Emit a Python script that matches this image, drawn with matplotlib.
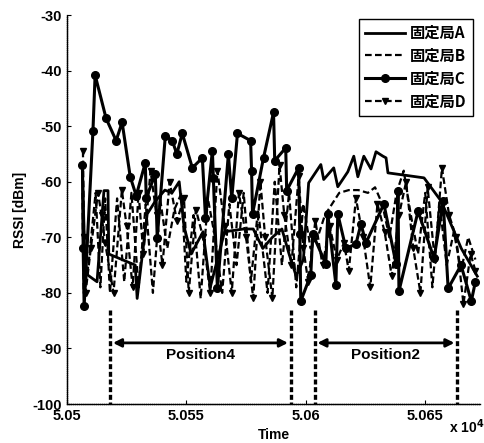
import numpy as np
import matplotlib.pyplot as plt

plt.rcParams['font.family'] = ['Liberation Sans', 'Noto Sans CJK JP', 'DejaVu Sans']
plt.rcParams['font.weight'] = 'bold'
plt.rcParams['axes.unicode_minus'] = False

# time in seconds (x 10^4 on the axis), RSSI in dBm
t_a = [50506.5, 50507.5, 50508.4, 50512.6, 50515.5, 50517.2, 50517.5, 50528.6, 50529.4, 50533.6,
       50537.0, 50541.0, 50544.0, 50547.0, 50549.0, 50552.0, 50557.0, 50560.0, 50566.0, 50574.0,
       50578.0, 50582.0, 50586.0, 50590.0, 50593.0, 50596.0, 50599.0, 50601.2, 50606.3, 50607.5,
       50611.7, 50613.4, 50617.6, 50620.1, 50621.8, 50624.3, 50627.3, 50629.4, 50632.3, 50633.6,
       50634.4, 50642.8, 50649.5, 50656.7, 50665.1, 50671.8]
y_a = [-58, -74, -76.7, -78, -61.6, -61.6, -73, -75, -81, -65.8,
       -63.5, -61.5, -62, -60, -68, -73, -69, -79, -69, -68.5,
       -68.5, -72, -70, -68.5, -73, -77, -74, -60.2, -56.9, -59.6,
       -57.5, -60.9, -58.2, -55.4, -59.1, -55.4, -57.7, -54.6, -55.4, -55.7,
       -58.4, -58.9, -59.3, -63.5, -72, -77]

t_b = [50506.5, 50507.0, 50509.0, 50512.0, 50514.0, 50516.0, 50518.0, 50521.0, 50524.0, 50527.0,
       50530.0, 50533.0, 50536.0, 50539.0, 50542.0, 50545.0, 50548.0, 50550.0, 50553.0, 50556.0,
       50559.0, 50562.0, 50565.0, 50568.0, 50571.0, 50574.0, 50577.0, 50580.0, 50584.0, 50587.0,
       50590.0, 50593.0, 50596.0, 50599.0, 50602.0, 50605.0, 50608.0, 50611.0, 50614.0, 50618.0,
       50622.0, 50626.0, 50629.0, 50632.0, 50635.0, 50638.0, 50641.0, 50644.0, 50647.0, 50650.0,
       50653.0, 50656.0, 50659.0, 50662.0, 50665.0, 50668.0, 50671.0]
y_b = [-62, -80, -75, -62, -79, -63, -80, -63, -78, -62,
       -79, -64, -80, -63, -72, -65, -62, -78, -66, -81,
       -63, -70, -80, -64, -75, -62, -78, -65, -80, -60,
       -75, -62, -79, -64, -72, -70, -66, -64, -62, -61.5,
       -61.5, -62, -61, -64, -70, -62, -58, -66, -73, -62,
       -79, -64, -75, -69, -76, -70, -74]

t_c = [50506.5, 50506.8, 50507.2, 50510.9, 50511.8, 50516.4, 50520.6, 50523.1, 50526.5, 50529.0,
       50532.8, 50533.2, 50537.0, 50537.8, 50541.2, 50544.1, 50546.0, 50548.3, 50552.5, 50556.7,
       50558.0, 50560.9, 50561.3, 50563.0, 50567.6, 50569.0, 50571.4, 50576.9, 50577.3, 50577.7,
       50582.3, 50586.5, 50587.0, 50591.6, 50592.0, 50597.0, 50597.5, 50597.9, 50602.1, 50602.9,
       50608.4, 50609.2, 50612.6, 50613.4, 50616.8, 50621.0, 50623.1, 50625.2, 50632.7, 50637.8,
       50638.6, 50639.0, 50647.0, 50653.7, 50657.5, 50659.6, 50665.0, 50669.3, 50671.0]
y_c = [-57, -72, -82.4, -50.8, -40.8, -48.6, -52.6, -49.3, -59.1, -62.5,
       -56.6, -62.9, -58.6, -70.1, -51.7, -52.6, -55, -51.3, -57.5, -55.7,
       -66.5, -54.4, -59.3, -79.2, -55, -63, -51.3, -52.6, -58, -65.8,
       -55.7, -47.5, -56.2, -53.9, -61.6, -57.5, -69.4, -81.5, -76.7, -69.4,
       -74.8, -65.8, -78.5, -65.8, -72, -71.2, -67.6, -71, -64, -74.8,
       -61.6, -79.7, -65.3, -73.8, -63.5, -79.2, -75, -81.5, -78]

t_d = [50506.7, 50507.2, 50507.8, 50510.0, 50513.0, 50514.5, 50516.0, 50519.5, 50523.0, 50525.0,
       50527.5, 50530.0, 50532.0, 50535.0, 50537.5, 50540.0, 50543.0, 50546.0, 50549.0, 50551.0,
       50554.0, 50557.0, 50560.0, 50563.0, 50566.0, 50569.0, 50572.0, 50575.0, 50578.0, 50581.0,
       50583.0, 50586.0, 50589.0, 50591.0, 50594.0, 50597.0, 50599.0, 50601.0, 50604.0, 50607.0,
       50610.0, 50613.0, 50616.0, 50618.0, 50621.0, 50624.0, 50627.0, 50630.0, 50633.0, 50636.0,
       50639.0, 50642.0, 50645.0, 50648.0, 50651.0, 50654.0, 50657.0, 50660.0, 50663.0, 50666.0,
       50669.0, 50671.0]
y_d = [-54.4, -70, -80, -72, -62, -66, -71, -80, -61.5, -68,
       -79, -62, -73, -58, -66, -75, -60, -67, -63, -80,
       -65, -70, -80, -58, -68, -80, -62, -70, -81, -60,
       -70, -81, -57, -66, -75, -59, -72, -78, -67, -75,
       -68, -74, -71, -76, -63, -70, -79, -64, -69, -77,
       -66, -60, -72, -80, -61, -74, -57.5, -66, -70, -82,
       -73, -76]

labels = ['固定局A', '固定局B', '固定局C', '固定局D']
events = [50518.1, 50593.7, 50603.7, 50663.4]
spans = [(50518.1, 50593.7, 'Position4'), (50603.7, 50663.4, 'Position2')]

fig = plt.figure(figsize=(4.85, 4.43), dpi=100)
ax = fig.add_axes([0.138, 0.088, 0.852, 0.878])

s = 1e4
ax.plot(np.array(t_a) / s, y_a, '-', color='black', lw=2.0, label=labels[0])
ax.plot(np.array(t_b) / s, y_b, '--', color='black', lw=1.6, dashes=(3, 1.5), label=labels[1])
ax.plot(np.array(t_c) / s, y_c, '-o', color='black', lw=2.2, ms=5.5, label=labels[2])
ax.plot(np.array(t_d) / s, y_d, '--v', color='black', lw=1.6, ms=4.5, dashes=(3, 1.5), label=labels[3])

for e in events:
    ax.plot([e / s, e / s], [-83, -100], color='black', lw=2.4, linestyle=(0, (1.5, 0.8)))

for x0, x1, name in spans:
    ax.annotate('', xy=(x1 / s, -89), xytext=(x0 / s, -89),
                arrowprops=dict(arrowstyle='<|-|>', color='black', lw=2.0, mutation_scale=12))
    ax.text((x0 + x1) / 2 / s, -91.2, name, ha='center', va='center', fontsize=11, fontweight='bold')

ax.set_xlim(5.05, 5.0673)
ax.set_ylim(-100, -30)
ax.set_yticks(range(-100, -29, 10))
ax.set_xticks([5.05, 5.055, 5.06, 5.065])
ax.set_xticklabels(['5.05', '5.055', '5.06', '5.065'])
ax.tick_params(direction='in', length=3, labelsize=10.5, width=0.8)
for lab in ax.get_xticklabels() + ax.get_yticklabels():
    lab.set_fontweight('bold')
for side in ['top', 'right']:
    ax.spines[side].set_visible(False)
for side in ['left', 'bottom']:
    ax.spines[side].set_linewidth(1.0)
    ax.spines[side].set_linestyle((0, (1, 0.5)))

ax.set_ylabel('RSSI [dBm]', fontsize=10, fontweight='bold', labelpad=4)
ax.set_xlabel('Time', fontsize=10, fontweight='bold', labelpad=4)
fig.text(0.925, 0.022, r'x 10$^4$', fontsize=10, fontweight='bold')

leg = ax.legend(loc='upper right', bbox_to_anchor=(1.0, 1.01), handlelength=2.6,
                prop={'family': ['Noto Sans CJK JP'], 'weight': 'bold', 'size': 11},
                fancybox=False, edgecolor='black', framealpha=1, borderpad=0.4,
                labelspacing=0.45, handletextpad=0.3)
leg.get_frame().set_linewidth(1.0)

fig.savefig('out.png', dpi=100)
